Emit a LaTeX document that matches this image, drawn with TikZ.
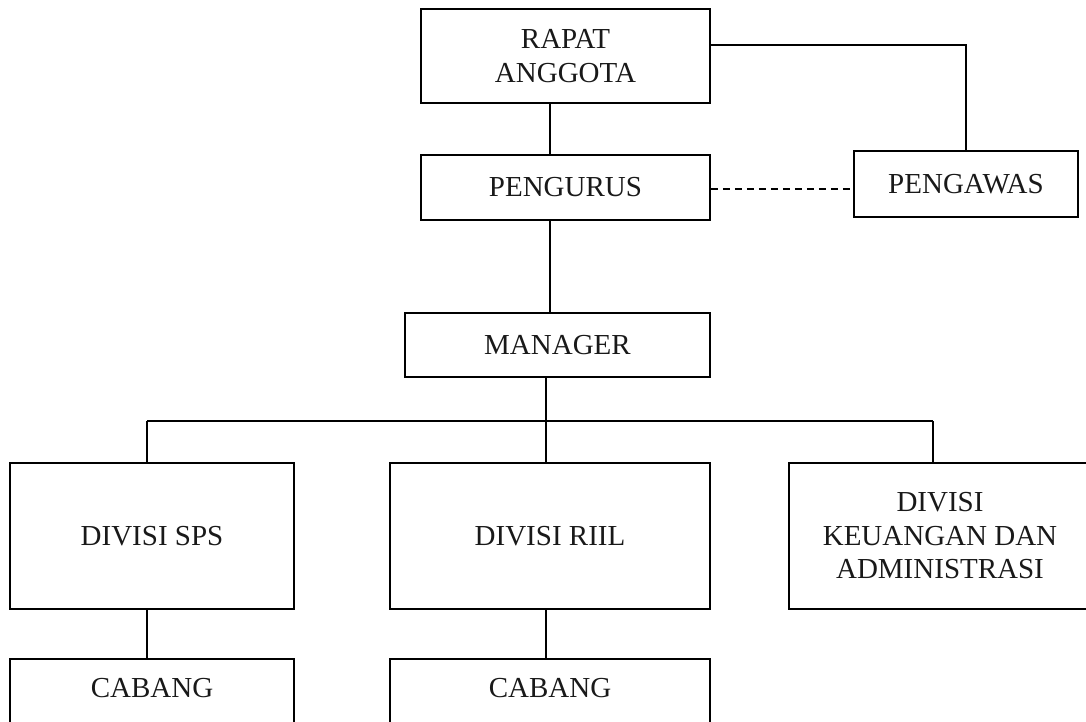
\documentclass[tikz,border=0pt]{standalone}
\usepackage{fontspec}
\setmainfont{Liberation Serif}
\begin{document}
\begin{tikzpicture}[x=1pt,y=-1pt,
  box/.style={draw, line width=1.5pt, rectangle, inner sep=0pt, align=center,
    font=\fontsize{29}{33.5}\selectfont, text=black!90},
  link/.style={line width=1.5pt},
  dashlink/.style={line width=1.5pt, dash pattern=on 7pt off 5pt}]
\useasboundingbox (0,0) rectangle (1086,721);
\clip (0,0) rectangle (1086,721);
\node[box, minimum width=289pt, minimum height=94pt] (rapat) at (565.5,56) {RAPAT\\ANGGOTA};
\node[box, minimum width=289pt, minimum height=65pt] (pengurus) at (565.5,187.5) {PENGURUS};
\node[box, minimum width=224pt, minimum height=66pt] (pengawas) at (966,184) {PENGAWAS};
\node[box, minimum width=305pt, minimum height=64pt] (manager) at (557.5,345) {MANAGER};
\node[box, minimum width=284pt, minimum height=146pt] (sps) at (152,536) {DIVISI SPS};
\node[box, minimum width=320pt, minimum height=146pt] (riil) at (550,536) {DIVISI RIIL};
\node[box, minimum width=302pt, minimum height=146pt] (keu) at (940,536) {DIVISI\\KEUANGAN DAN\\ADMINISTRASI};
\node[box, minimum width=284pt, anchor=north, text height=20pt, text depth=60pt, inner ysep=19pt] (cab1) at (152,658) {CABANG};
\node[box, minimum width=320pt, anchor=north, text height=20pt, text depth=60pt, inner ysep=19pt] (cab2) at (550,658) {CABANG};
\coordinate (bus) at (546,421);
% connectors
\draw[link] ([xshift=-15.5pt]rapat.south) -- ([xshift=-15.5pt]pengurus.north);
\draw[link] ([yshift=11pt]rapat.east) -| (pengawas.north);
\draw[dashlink] ([yshift=-1.5pt]pengurus.east) -- ([yshift=-1.5pt]pengurus.east -| pengawas.west);
\draw[link] ([xshift=-15.5pt]pengurus.south) -- ([xshift=-7.5pt]manager.north);
\draw[link] ([xshift=-11.5pt]manager.south) -- (bus);
\draw[link] ([xshift=-5pt]sps.north |- bus) -- ([xshift=-7pt]keu.north |- bus);
\draw[link] ([xshift=-5pt]sps.north |- bus) -- ([xshift=-5pt]sps.north);
\draw[link] (bus) -- ([xshift=-4pt]riil.north);
\draw[link] ([xshift=-7pt]keu.north |- bus) -- ([xshift=-7pt]keu.north);
\draw[link] ([xshift=-5pt]sps.south) -- ([xshift=-5pt]cab1.north);
\draw[link] ([xshift=-4pt]riil.south) -- ([xshift=-4pt]cab2.north);
\end{tikzpicture}
\end{document}
